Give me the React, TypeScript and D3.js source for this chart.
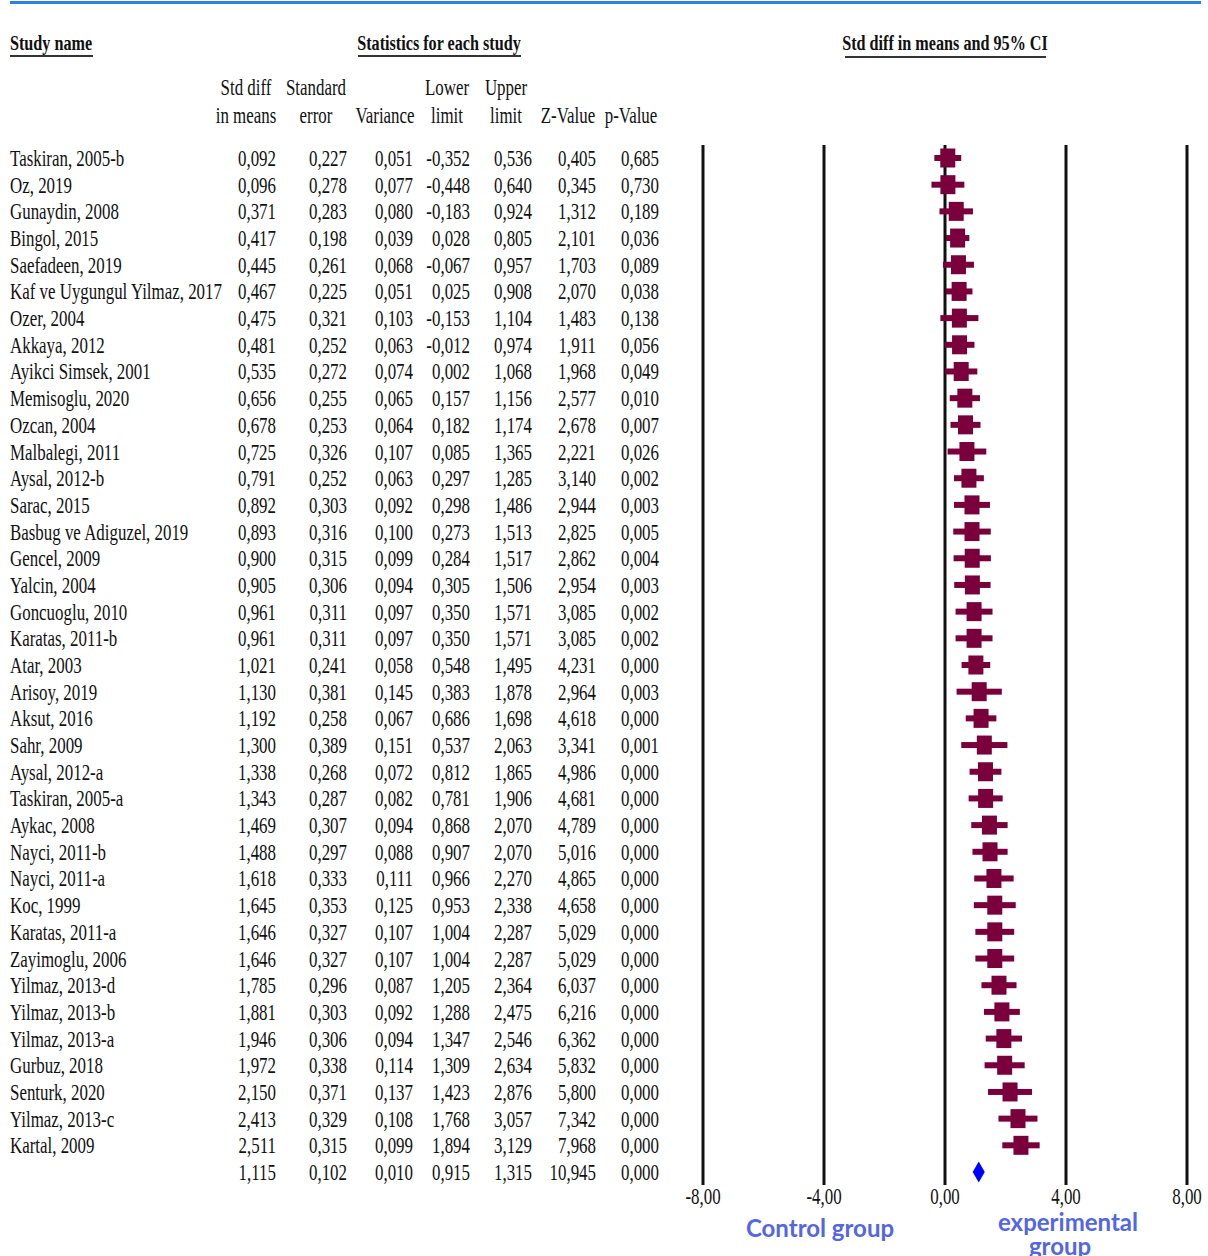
import React from "react";
import * as d3 from "d3";

const studies = [
  "Taskiran, 2005-b", "Oz, 2019", "Gunaydin, 2008", "Bingol, 2015", "Saefadeen, 2019",
  "Kaf ve Uygungul Yilmaz, 2017", "Ozer, 2004", "Akkaya, 2012", "Ayikci Simsek, 2001",
  "Memisoglu, 2020", "Ozcan, 2004", "Malbalegi, 2011", "Aysal, 2012-b", "Sarac, 2015",
  "Basbug ve Adiguzel, 2019", "Gencel, 2009", "Yalcin, 2004", "Goncuoglu, 2010",
  "Karatas, 2011-b", "Atar, 2003", "Arisoy, 2019", "Aksut, 2016", "Sahr, 2009",
  "Aysal, 2012-a", "Taskiran, 2005-a", "Aykac, 2008", "Nayci, 2011-b", "Nayci, 2011-a",
  "Koc, 1999", "Karatas, 2011-a", "Zayimoglu, 2006", "Yilmaz, 2013-d", "Yilmaz, 2013-b",
  "Yilmaz, 2013-a", "Gurbuz, 2018", "Senturk, 2020", "Yilmaz, 2013-c", "Kartal, 2009",
];
const smd = [0.092, 0.096, 0.371, 0.417, 0.445, 0.467, 0.475, 0.481, 0.535, 0.656, 0.678, 0.725, 0.791, 0.892, 0.893, 0.9, 0.905, 0.961, 0.961, 1.021, 1.13, 1.192, 1.3, 1.338, 1.343, 1.469, 1.488, 1.618, 1.645, 1.646, 1.646, 1.785, 1.881, 1.946, 1.972, 2.15, 2.413, 2.511];
const stdErr = [0.227, 0.278, 0.283, 0.198, 0.261, 0.225, 0.321, 0.252, 0.272, 0.255, 0.253, 0.326, 0.252, 0.303, 0.316, 0.315, 0.306, 0.311, 0.311, 0.241, 0.381, 0.258, 0.389, 0.268, 0.287, 0.307, 0.297, 0.333, 0.353, 0.327, 0.327, 0.296, 0.303, 0.306, 0.338, 0.371, 0.329, 0.315];
const variance = [0.051, 0.077, 0.08, 0.039, 0.068, 0.051, 0.103, 0.063, 0.074, 0.065, 0.064, 0.107, 0.063, 0.092, 0.1, 0.099, 0.094, 0.097, 0.097, 0.058, 0.145, 0.067, 0.151, 0.072, 0.082, 0.094, 0.088, 0.111, 0.125, 0.107, 0.107, 0.087, 0.092, 0.094, 0.114, 0.137, 0.108, 0.099];
const lower = [-0.352, -0.448, -0.183, 0.028, -0.067, 0.025, -0.153, -0.012, 0.002, 0.157, 0.182, 0.085, 0.297, 0.298, 0.273, 0.284, 0.305, 0.35, 0.35, 0.548, 0.383, 0.686, 0.537, 0.812, 0.781, 0.868, 0.907, 0.966, 0.953, 1.004, 1.004, 1.205, 1.288, 1.347, 1.309, 1.423, 1.768, 1.894];
const upper = [0.536, 0.64, 0.924, 0.805, 0.957, 0.908, 1.104, 0.974, 1.068, 1.156, 1.174, 1.365, 1.285, 1.486, 1.513, 1.517, 1.506, 1.571, 1.571, 1.495, 1.878, 1.698, 2.063, 1.865, 1.906, 2.07, 2.07, 2.27, 2.338, 2.287, 2.287, 2.364, 2.475, 2.546, 2.634, 2.876, 3.057, 3.129];
const zValue = [0.405, 0.345, 1.312, 2.101, 1.703, 2.07, 1.483, 1.911, 1.968, 2.577, 2.678, 2.221, 3.14, 2.944, 2.825, 2.862, 2.954, 3.085, 3.085, 4.231, 2.964, 4.618, 3.341, 4.986, 4.681, 4.789, 5.016, 4.865, 4.658, 5.029, 5.029, 6.037, 6.216, 6.362, 5.832, 5.8, 7.342, 7.968];
const pValue = [0.685, 0.73, 0.189, 0.036, 0.089, 0.038, 0.138, 0.056, 0.049, 0.01, 0.007, 0.026, 0.002, 0.003, 0.005, 0.004, 0.003, 0.002, 0.002, 0.0, 0.003, 0.0, 0.001, 0.0, 0.0, 0.0, 0.0, 0.0, 0.0, 0.0, 0.0, 0.0, 0.0, 0.0, 0.0, 0.0, 0.0, 0.0];

// pooled (random-effects) row
const summary = { smd: 1.115, se: 0.102, variance: 0.01, lower: 0.915, upper: 1.315, z: 10.945, p: 0.0 };

const axisTicks = [-8, -4, 0, 4, 8];
const columnHeads = [
  ["Std diff", "in means"],
  ["Standard", "error"],
  ["", "Variance"],
  ["Lower", "limit"],
  ["Upper", "limit"],
  ["", "Z-Value"],
  ["", "p-Value"],
];

const W = 1208;
const H = 1256;
const SERIF = "'Liberation Serif', 'Times New Roman', serif";
const SX = 0.735; // horizontal condensing of the table type
const FS = 23;
const MAROON = "#7a003c";
const LABEL_BLUE = "#5366e4";

// comma decimals and an ASCII hyphen for negatives
const fmt = (v: number) => d3.format(".3f")(v).replace(".", ",").replace("\u2212", "-");
const fmtTick = (v: number) => d3.format(".2f")(v).replace(".", ",").replace("\u2212", "-");

// column right edges for the numeric table and header centres
const colRight = [276, 347, 413, 470, 532, 596, 659];
const colCenter = [246, 316, 385, 447, 506, 568, 631];

function T({ x, y, anchor = "start", children, size = FS, fill = "#111", weight = 400 }: any) {
  return (
    <text
      transform={`translate(${x},${y}) scale(${SX},1)`}
      textAnchor={anchor}
      dominantBaseline="central"
      fontFamily={SERIF}
      fontSize={size}
      fontWeight={weight}
      fill={fill}
    >
      {children}
    </text>
  );
}

export default function App() {
  const n = studies.length;
  const y = d3.scalePoint<number>().domain(d3.range(n + 1)).range([158, 1172]);
  const x = d3.scaleLinear().domain([-8, 8]).range([703, 1187]);

  const rows = studies.map((name, i) => ({
    name,
    vals: [smd[i], stdErr[i], variance[i], lower[i], upper[i], zValue[i], pValue[i]],
    smd: smd[i],
    lo: lower[i],
    hi: upper[i],
  }));
  const sumVals = [summary.smd, summary.se, summary.variance, summary.lower, summary.upper, summary.z, summary.p];

  const boxW = 15;
  const boxH = 19;
  const ciW = 6;
  const lineTop = 145;
  const lineBottom = 1185;
  const ys = y(n)!;

  return (
    <svg
      width={W}
      height={H}
      viewBox={`0 0 ${W} ${H}`}
      style={{ position: "absolute", left: 0, top: 0, background: "#fff" }}
    >
      <rect x={0} y={0} width={W} height={H} fill="#fff" />
      {/* top rule */}
      <line x1={10} x2={1201} y1={2.5} y2={2.5} stroke="#2f7fe8" strokeWidth={3} />

      {/* section headings */}
      <T x={10} y={43} weight={700} size={22}>Study name</T>
      <line x1={10} x2={93} y1={56} y2={56} stroke="#333" strokeWidth={2} />
      <T x={439} y={43} anchor="middle" weight={700} size={22}>Statistics for each study</T>
      <line x1={358} x2={521} y1={56} y2={56} stroke="#333" strokeWidth={2} />
      <T x={945} y={43} anchor="middle" weight={700} size={22}>Std diff in means and 95% CI</T>
      <line x1={845} x2={1046} y1={57} y2={57} stroke="#333" strokeWidth={2} />

      {/* column headings */}
      {columnHeads.map((h, j) => (
        <g key={j}>
          {h[0] && <T x={colCenter[j]} y={87} anchor="middle">{h[0]}</T>}
          <T x={colCenter[j]} y={115} anchor="middle">{h[1]}</T>
        </g>
      ))}

      {/* table rows */}
      {rows.map((r, i) => (
        <g key={r.name + i}>
          <T x={10} y={y(i)}>{r.name}</T>
          {r.vals.map((v, j) => (
            <T key={j} x={colRight[j]} y={y(i)} anchor="end">{fmt(v)}</T>
          ))}
        </g>
      ))}
      {sumVals.map((v, j) => (
        <T key={"s" + j} x={colRight[j]} y={ys} anchor="end">{fmt(v)}</T>
      ))}

      {/* reference lines */}
      {axisTicks.map((t) => (
        <g key={t}>
          <line x1={x(t)} x2={x(t)} y1={lineTop} y2={lineBottom} stroke="#111" strokeWidth={3} />
          <T x={x(t)} y={1196} anchor="middle">{fmtTick(t)}</T>
        </g>
      ))}

      {/* study effects with confidence intervals */}
      {rows.map((r, i) => (
        <g key={"m" + i} fill={MAROON}>
          <rect x={x(r.lo)} y={y(i)! - ciW / 2} width={x(r.hi) - x(r.lo)} height={ciW} />
          <rect x={x(r.smd) - boxW / 2} y={y(i)! - boxH / 2} width={boxW} height={boxH} />
        </g>
      ))}

      {/* pooled estimate */}
      <path
        d={`M${x(summary.lower)},${ys} L${x(summary.smd)},${ys - 10.5} L${x(summary.upper)},${ys} L${x(summary.smd)},${ys + 10.5} Z`}
        fill="#0000ff"
      />

      {/* direction labels */}
      <text x={820} y={1227} textAnchor="middle" dominantBaseline="central" fontFamily="Lato, 'Open Sans', sans-serif" fontWeight={700} fontSize={24} fill={LABEL_BLUE}>
        Control group
      </text>
      <text x={1068} y={1221} textAnchor="middle" dominantBaseline="central" fontFamily="Lato, 'Open Sans', sans-serif" fontWeight={700} fontSize={24} fill={LABEL_BLUE}>
        experimental
      </text>
      <text x={1060} y={1245} textAnchor="middle" dominantBaseline="central" fontFamily="Lato, 'Open Sans', sans-serif" fontWeight={700} fontSize={24} fill={LABEL_BLUE}>
        group
      </text>
    </svg>
  );
}
